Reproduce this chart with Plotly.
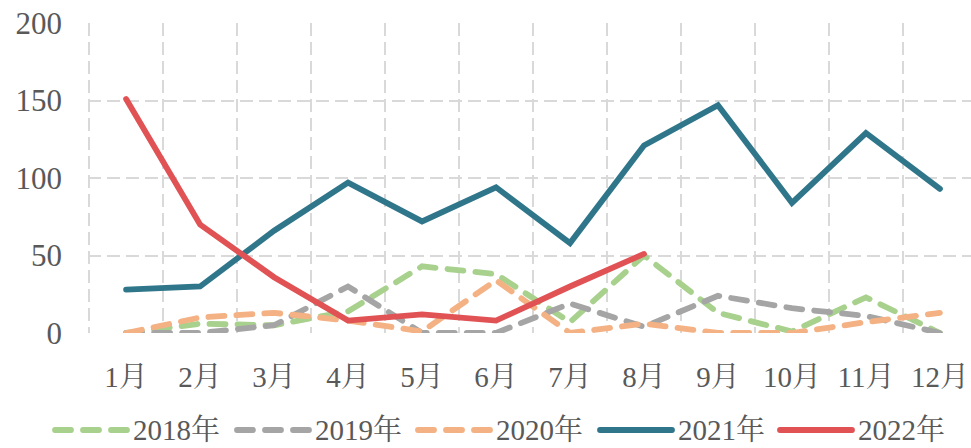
import plotly.graph_objects as go

# Monthly values per year
months = ["1月", "2月", "3月", "4月", "5月", "6月", "7月", "8月", "9月", "10月", "11月", "12月"]
y2018 = [0, 6, 5, 14, 43, 38, 7, 50, 13, 1, 23, 0]
y2019 = [0, 0, 5, 30, 0, 0, 19, 4, 24, 16, 11, 0]
y2020 = [0, 10, 13, 8, 1, 34, 0, 6, 0, 0, 7, 13]
y2021 = [28, 30, 66, 97, 72, 94, 58, 121, 147, 84, 129, 93]
y2022 = [151, 70, 36, 8, 12, 8, 30, 51]
y_ticks = [0, 50, 100, 150, 200]

series = [
    ("2018年", y2018, "#A9D18E", "16px,12px"),
    ("2019年", y2019, "#A5A5A5", "16px,12px"),
    ("2020年", y2020, "#F4B183", "16px,12px"),
    ("2021年", y2021, "#2F768B", "solid"),
    ("2022年", y2022, "#E05254", "solid"),
]

FONT = "Liberation Serif, 'Noto Serif CJK SC', 'Noto Sans CJK SC', serif"
TXT = "#595959"
GRID = "#D9D9D9"

W, H = 971, 448
ML, MR, MT, MB = 88, 0, 23, 115
PW, PH = W - ML - MR, H - MT - MB

fig = go.Figure()
for name, vals, color, dash in series:
    fig.add_trace(go.Scatter(
        x=months[:len(vals)], y=vals, name=name, mode="lines",
        line=dict(color=color, width=5.8, dash=dash),
        showlegend=False,
    ))

# Legend row below the plot: line sample + label for each year
leg_x = [55, 237, 418, 600, 780]
sym_len = 72
leg_y = (MT + PH - 430) / PH
for (name, vals, color, dash), x0 in zip(series, leg_x):
    fig.add_shape(
        type="line", xref="paper", yref="paper",
        x0=(x0 - ML) / PW, x1=(x0 + sym_len - ML) / PW, y0=leg_y, y1=leg_y,
        line=dict(color=color, width=5.8, dash=dash), layer="above",
    )
    fig.add_annotation(
        xref="paper", yref="paper", x=(x0 + sym_len + 4 - ML) / PW, y=leg_y,
        text=name, showarrow=False, xanchor="left", yanchor="middle",
        font=dict(family=FONT, size=29, color=TXT),
    )

fig.update_layout(
    width=W, height=H,
    margin=dict(l=ML, r=MR, t=MT, b=MB, pad=0),
    paper_bgcolor="white", plot_bgcolor="white",
    showlegend=False,
    xaxis=dict(
        type="category", categoryorder="array", categoryarray=months,
        range=[-0.515, 11.42], tickson="boundaries",
        showgrid=True, gridcolor=GRID, gridwidth=2, griddash="13px,6px",
        showline=False, zeroline=False, ticks="",
        ticklabelstandoff=24,
        tickfont=dict(family=FONT, size=29, color=TXT),
    ),
    yaxis=dict(
        range=[0, 200], tickvals=y_ticks,
        showgrid=True, gridcolor=GRID, gridwidth=2, griddash="13px,6px",
        showline=False, zeroline=False, ticks="",
        ticklabelstandoff=25,
        tickfont=dict(family=FONT, size=31, color=TXT),
    ),
)

post = """
var gd = document.getElementById('{plot_id}');
function roundCaps() {
  gd.querySelectorAll('.scatterlayer path.js-line, .shapelayer path').forEach(function (p) {
    p.style.strokeLinecap = 'round';
  });
}
roundCaps();
gd.on('plotly_afterplot', roundCaps);
"""

fig.write_html("out.html", post_script=post)
